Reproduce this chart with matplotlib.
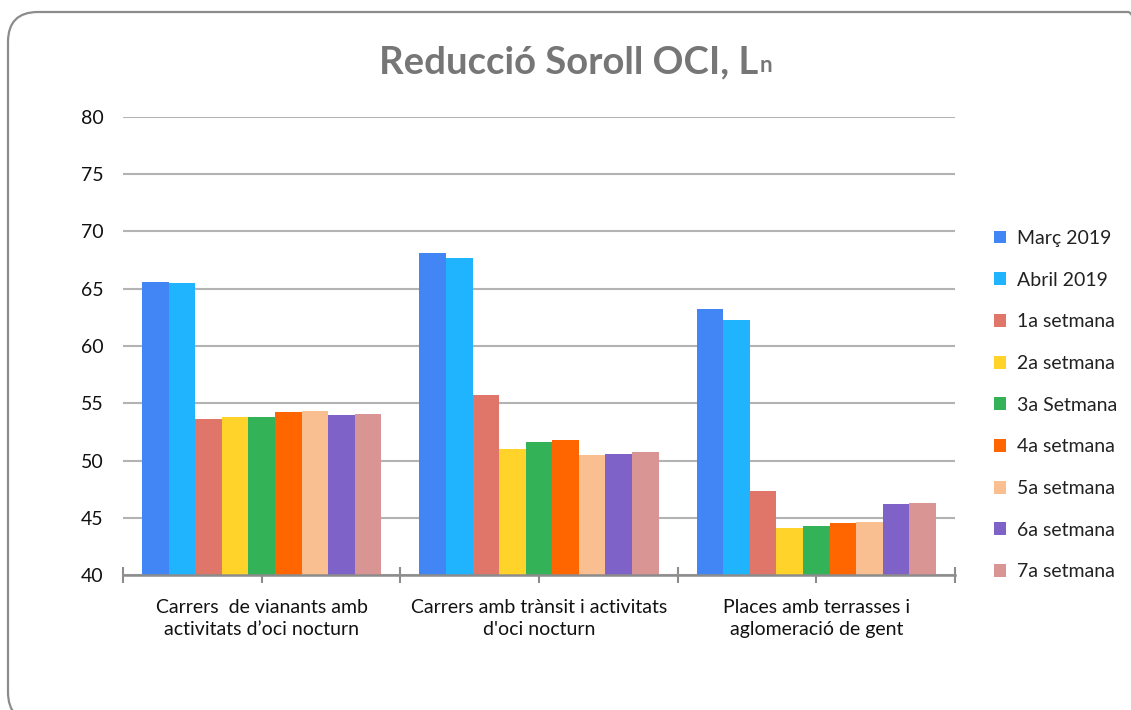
import numpy as np
import matplotlib
matplotlib.use("Agg")
import matplotlib.pyplot as plt
from matplotlib.patches import FancyBboxPatch
from matplotlib.ticker import MultipleLocator

plt.rcParams["font.family"] = ["Lato", "DejaVu Sans"]

categories = [
    "Carrers  de vianants amb\nactivitats d\u2019oci nocturn",
    "Carrers amb trànsit i activitats\nd'oci nocturn",
    "Places amb terrasses i\naglomeració de gent",
]
series = [
    "Març 2019", "Abril 2019", "1a setmana", "2a setmana", "3a Setmana",
    "4a setmana", "5a setmana", "6a setmana", "7a setmana",
]
values = [
    [65.6, 68.1, 63.2],  # Març 2019
    [65.5, 67.7, 62.3],  # Abril 2019
    [53.6, 55.7, 47.3],  # 1a setmana
    [53.8, 51.0, 44.1],  # 2a setmana
    [53.8, 51.6, 44.3],  # 3a Setmana
    [54.2, 51.8, 44.5],  # 4a setmana
    [54.3, 50.5, 44.6],  # 5a setmana
    [54.0, 50.6, 46.2],  # 6a setmana
    [54.1, 50.7, 46.3],  # 7a setmana
]
colors = [
    "#4285F4", "#20B4FF", "#E0756A", "#FFD32A", "#33B257",
    "#FF6600", "#F9BF90", "#7E62C8", "#D99594",
]

fig = plt.figure(figsize=(11.31, 7.1), dpi=100)
ax = fig.add_axes([123 / 1131, 1 - 575 / 710, (955 - 123) / 1131, (575 - 117) / 710])

x = np.arange(len(categories))
bar_w = 0.0958
n = len(series)
for i, (name, vals, col) in enumerate(zip(series, values, colors)):
    offset = (i - (n - 1) / 2) * bar_w
    ax.bar(x + offset, vals, width=bar_w, color=col, label=name, zorder=3)

ax.set_ylim(40, 80)
ax.set_xlim(-0.5, 2.5)
ax.yaxis.set_major_locator(MultipleLocator(5))
ax.grid(axis="y", color="#b3b3b3", linewidth=1.5, zorder=0)
ax.tick_params(axis="y", length=0, pad=14, labelsize=14, labelcolor="#111111")

ax.set_xticks(x)
ax.set_xticklabels(categories, fontsize=14, color="#111111", linespacing=1.35)
ax.xaxis.set_minor_locator(MultipleLocator(0.5))
ax.tick_params(axis="x", which="both", direction="inout", length=12, width=1.5,
               color="#8c8c8c", pad=11)

for s in ["top", "right", "left"]:
    ax.spines[s].set_visible(False)
ax.spines["bottom"].set_color("#8c8c8c")
ax.spines["bottom"].set_linewidth(1.8)
ax.spines["bottom"].set_zorder(4)

handles, labels = ax.get_legend_handles_labels()
fig.legend(handles, labels, loc="upper left", bbox_to_anchor=(988 / 1131, 1 - 224 / 710),
           frameon=False, fontsize=14, labelspacing=1.27, handlelength=0.65,
           handleheight=0.65, handletextpad=0.55, labelcolor="#222222",
           borderaxespad=0, borderpad=0.3)

# title with subscript n
t = fig.text(0.503, 1 - 73 / 710, "Reducció Soroll OCI, L", ha="center", va="baseline",
             fontsize=27.5, fontweight="bold", color="#767676")
fig.canvas.draw()
bb = t.get_window_extent()
fig.text(bb.x1 + 1, bb.y0 + 7, "n", ha="left", va="baseline",
         fontsize=16, fontweight="bold", color="#767676", transform=None)

frame = FancyBboxPatch((8, -12), 1150, 710, boxstyle="round,pad=0,rounding_size=30",
                       transform=None, facecolor="none", edgecolor="#8c8c8c",
                       linewidth=1.6, clip_on=False)
fig.patches.append(frame)

fig.savefig("out.png", dpi=100)
